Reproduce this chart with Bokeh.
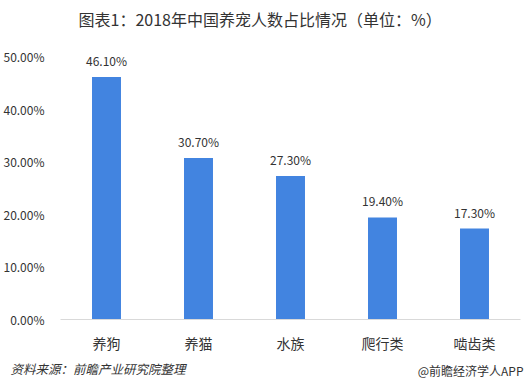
from bokeh.plotting import figure
from bokeh.models import Range1d, FixedTicker, ColumnDataSource, LabelSet
from bokeh.core.properties import value
from bokeh.layouts import column
from bokeh.embed import file_html
from bokeh.resources import INLINE

categories = ["养狗", "养猫", "水族", "爬行类", "啮齿类"]
values = [46.10, 30.70, 27.30, 19.40, 17.30]
y_ticks = [0, 10, 20, 30, 40, 50]
title_text = "图表1：2018年中国养宠人数占比情况（单位：%）"
source_text = "资料来源：前瞻产业研究院整理"
brand_text = "@前瞻经济学人APP"

FONT = "Noto Sans CJK SC"
TXT = "#333333"
W = 529
HEAD_H = 36
MAIN_H = 319
FOOT_H = 34


def text_strip(height):
    s = figure(width=W, height=height, output_backend="svg", toolbar_location=None,
               x_range=Range1d(0, W), y_range=Range1d(0, height),
               min_border_left=0, min_border_right=0, min_border_top=0, min_border_bottom=0)
    s.frame_align = False
    s.axis.visible = False
    s.grid.grid_line_color = None
    s.outline_line_color = None
    return s


head = text_strip(HEAD_H)
head.text(x=[78], y=[HEAD_H - 18], text=[title_text], text_font=value(FONT), text_font_size="16px",
          text_color=TXT, text_baseline="middle", text_align="left")

xs = list(range(len(categories)))
src = ColumnDataSource(dict(x=xs, top=values, lbl=["%.2f%%" % v for v in values]))

p = figure(width=W, height=MAIN_H, output_backend="svg", toolbar_location=None,
           x_range=Range1d(-0.5, 4.5), y_range=Range1d(0, 50),
           min_border_left=60, min_border_right=9, min_border_top=20, min_border_bottom=36)
p.frame_align = False
p.outline_line_color = None
p.xgrid.grid_line_color = None
p.ygrid.grid_line_color = None

p.vbar(x="x", top="top", width=0.315, bottom=0, source=src, color="#4284E0", line_color=None)

p.add_layout(LabelSet(x="x", y="top", text="lbl", source=src, text_align="center",
                      text_baseline="bottom", y_offset=8, text_font=value(FONT),
                      text_font_size=value("12px"), text_color=TXT))

p.xaxis.ticker = FixedTicker(ticks=xs)
p.xaxis.major_label_overrides = {i: c for i, c in enumerate(categories)}
p.xaxis.major_tick_line_color = None
p.xaxis.minor_tick_line_color = None
p.xaxis.axis_line_color = "#d9d9d9"
p.xaxis.major_label_text_font = FONT
p.xaxis.major_label_text_font_size = "14px"
p.xaxis.major_label_text_color = TXT
p.xaxis.major_label_standoff = 7

p.yaxis.ticker = FixedTicker(ticks=y_ticks)
p.yaxis.major_label_overrides = {t: "%.2f%%" % t for t in y_ticks}
p.yaxis.axis_line_color = None
p.yaxis.major_tick_line_color = None
p.yaxis.minor_tick_line_color = None
p.yaxis.major_label_text_font = FONT
p.yaxis.major_label_text_font_size = "12px"
p.yaxis.major_label_text_color = TXT
p.yaxis.major_label_standoff = 10

foot = text_strip(FOOT_H)
foot.text(x=[10], y=[FOOT_H - 13], text=[source_text], text_font=value(FONT), text_font_size="12.5px",
          text_font_style="italic", text_color=TXT, text_baseline="middle", text_align="left")
foot.text(x=[W - 6], y=[FOOT_H - 15], text=[brand_text], text_font=value(FONT), text_font_size="12px",
          text_color=TXT, text_baseline="middle", text_align="right")

layout = column(head, p, foot, spacing=0)
open("out.html", "w").write(file_html(layout, INLINE))
